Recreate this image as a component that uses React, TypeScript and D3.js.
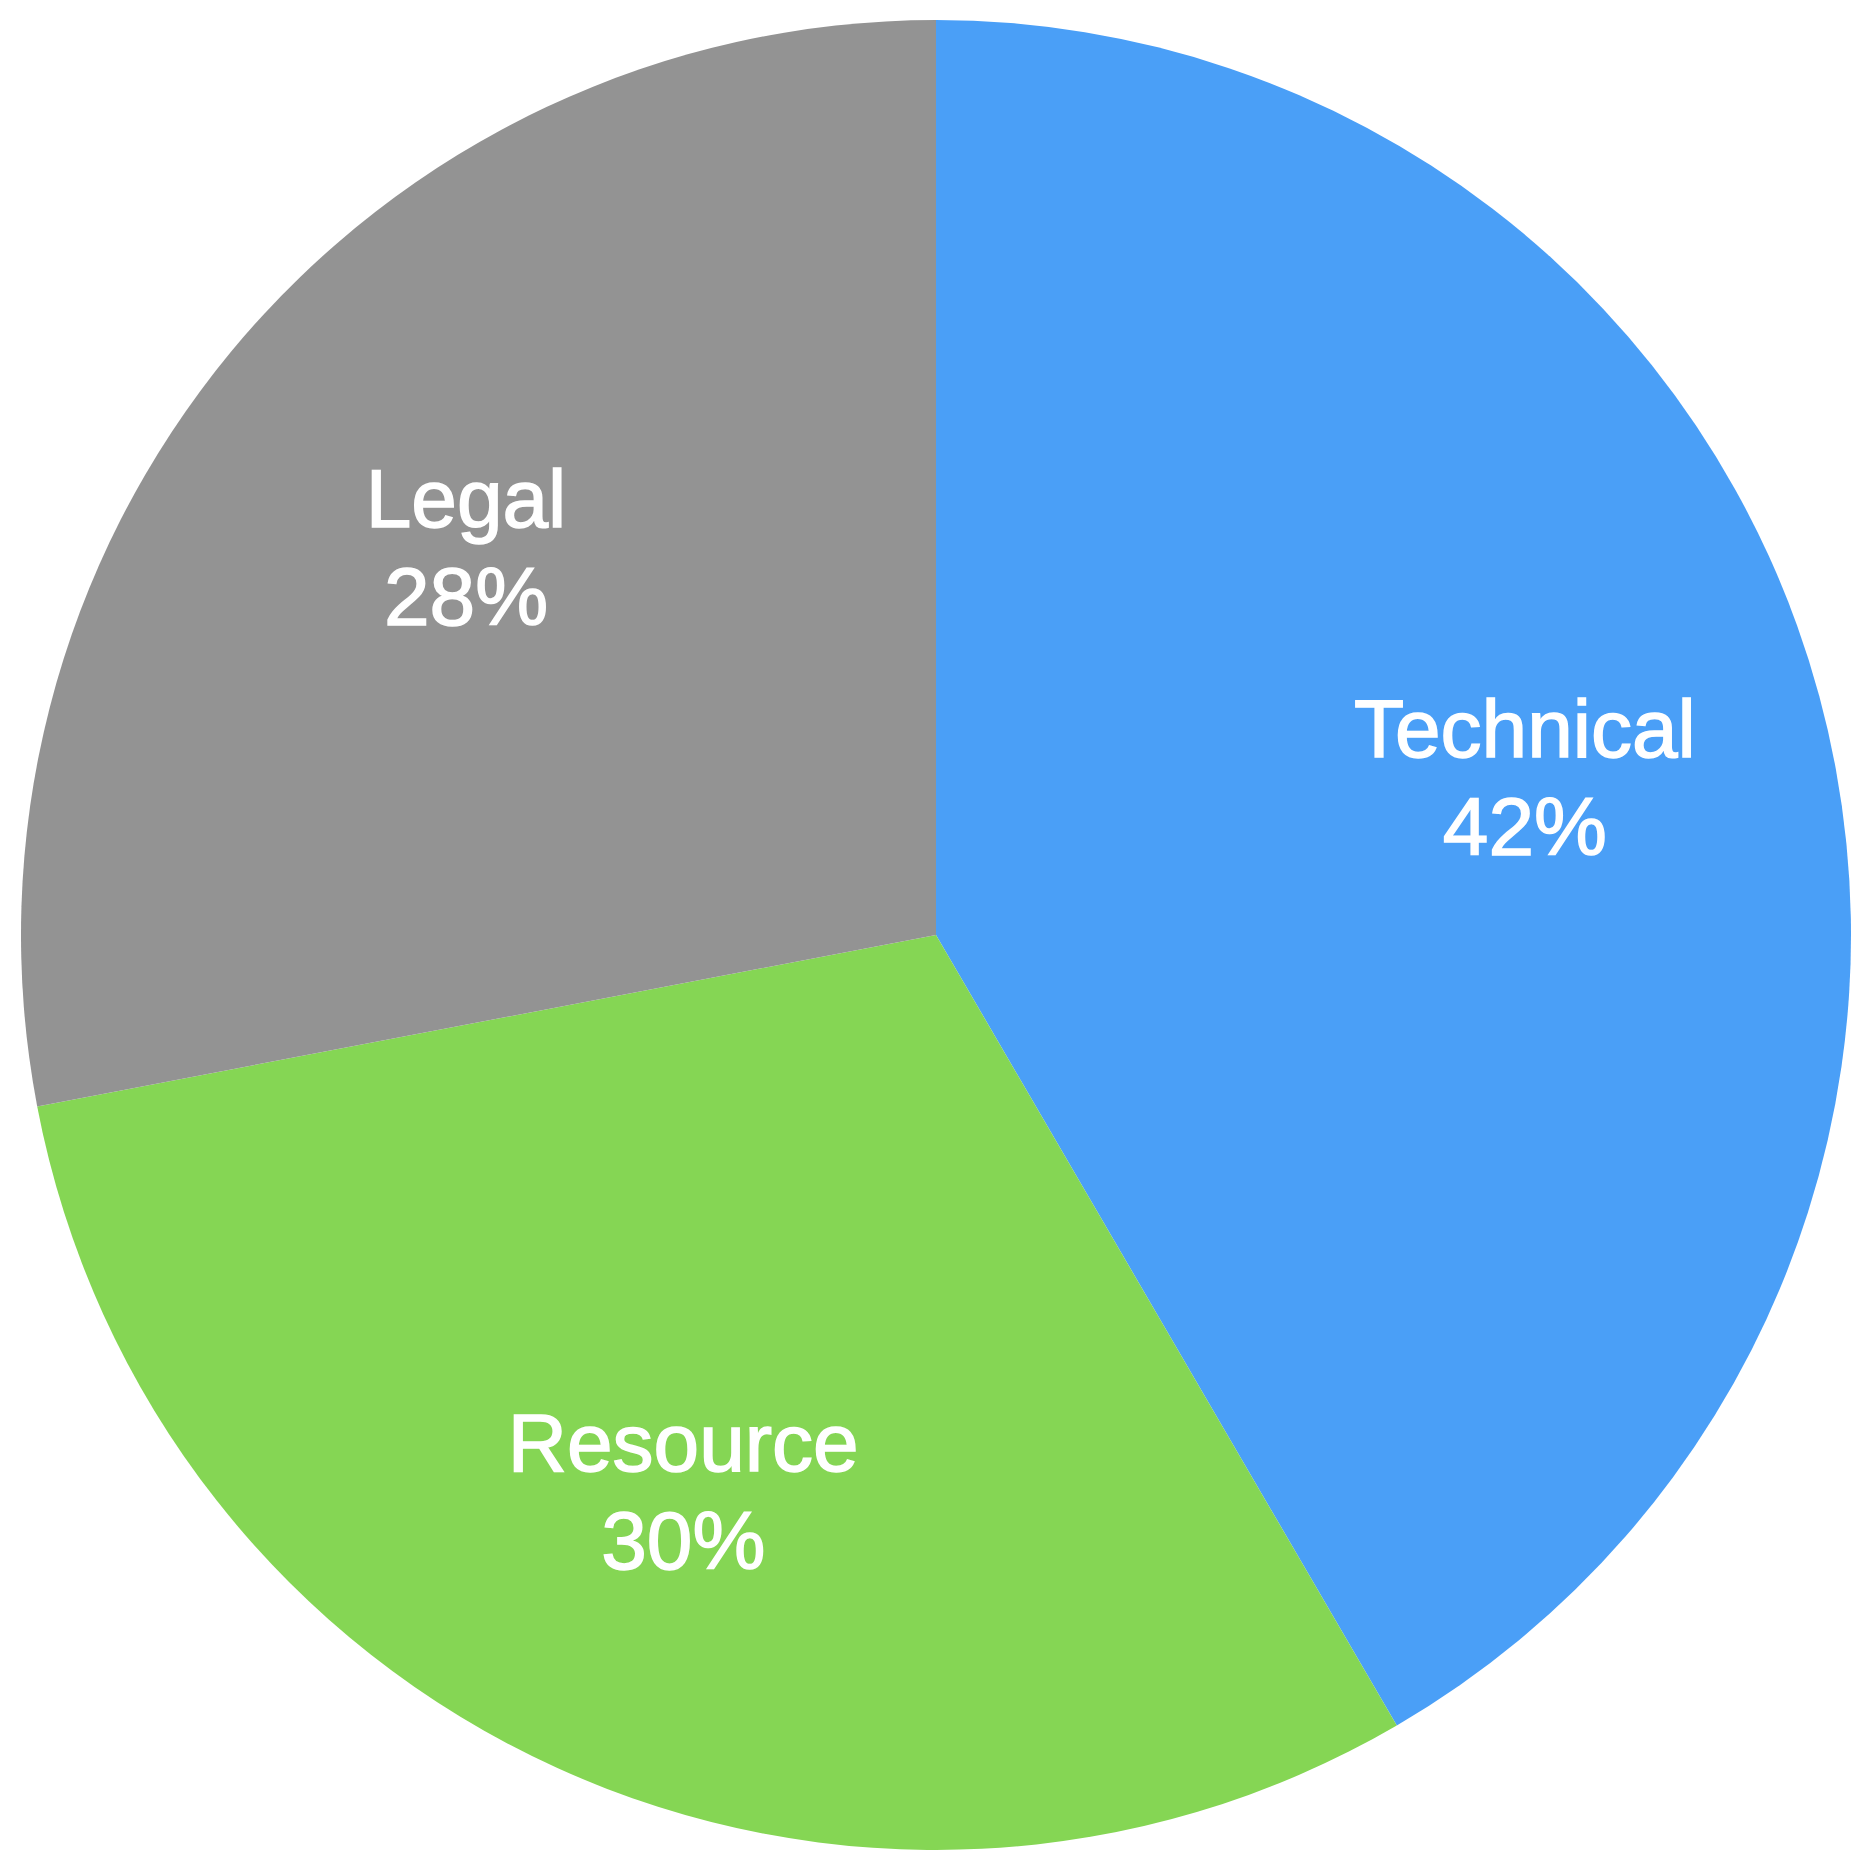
import React, { useRef, useEffect } from "react";
import * as d3 from "d3";

// slice data (clockwise from 12 o'clock)
const categories = ["Technical", "Resource", "Legal"];
const values = [41.6, 30.4, 28.0];
const sliceColors = ["#4A9FF7", "#85D654", "#939393"];

const App = () => {
  const container = useRef(null);

  const width = 1873;
  const height = 1870;
  const cx = 936;
  const cy = 935;
  const radius = 915;

  useEffect(() => {
    const svg = d3.select(container.current);
    svg.selectAll("*").remove();

    const data = categories.map((c, i) => ({ name: c, value: values[i], color: sliceColors[i] }));
    const total = d3.sum(values);

    const pie = d3.pie().value((d) => d.value).sort(null);
    const arcs = pie(data);

    const arc = d3.arc().innerRadius(0).outerRadius(radius);
    const labelArc = d3.arc().innerRadius((radius * 2) / 3).outerRadius((radius * 2) / 3);

    const g = svg.append("g").attr("transform", `translate(${cx}, ${cy})`);

    g.selectAll("path")
      .data(arcs)
      .enter()
      .append("path")
      .attr("d", arc)
      .attr("fill", (d) => d.data.color);

    // labels: name + rounded percentage
    const labels = g
      .selectAll("text")
      .data(arcs)
      .enter()
      .append("text")
      .attr("transform", (d) => `translate(${labelArc.centroid(d)})`)
      .attr("text-anchor", "middle")
      .style("fill", "#ffffff")
      .style("stroke", "#ffffff")
      .style("stroke-width", "1.5px")
      .style("font-family", "'Liberation Sans', Arial, Helvetica, sans-serif")
      .style("font-size", "82px");

    labels
      .append("tspan")
      .attr("x", 0)
      .attr("y", -19)
      .text((d) => d.data.name);

    labels
      .append("tspan")
      .attr("x", 0)
      .attr("y", 79)
      .text((d) => `${Math.round((d.data.value / total) * 100)}%`);
  }, []);

  return (
    <svg
      ref={container}
      width={width}
      height={height}
      style={{ position: "absolute", left: 0, top: 0, background: "#ffffff" }}
    />
  );
};

export default App;
